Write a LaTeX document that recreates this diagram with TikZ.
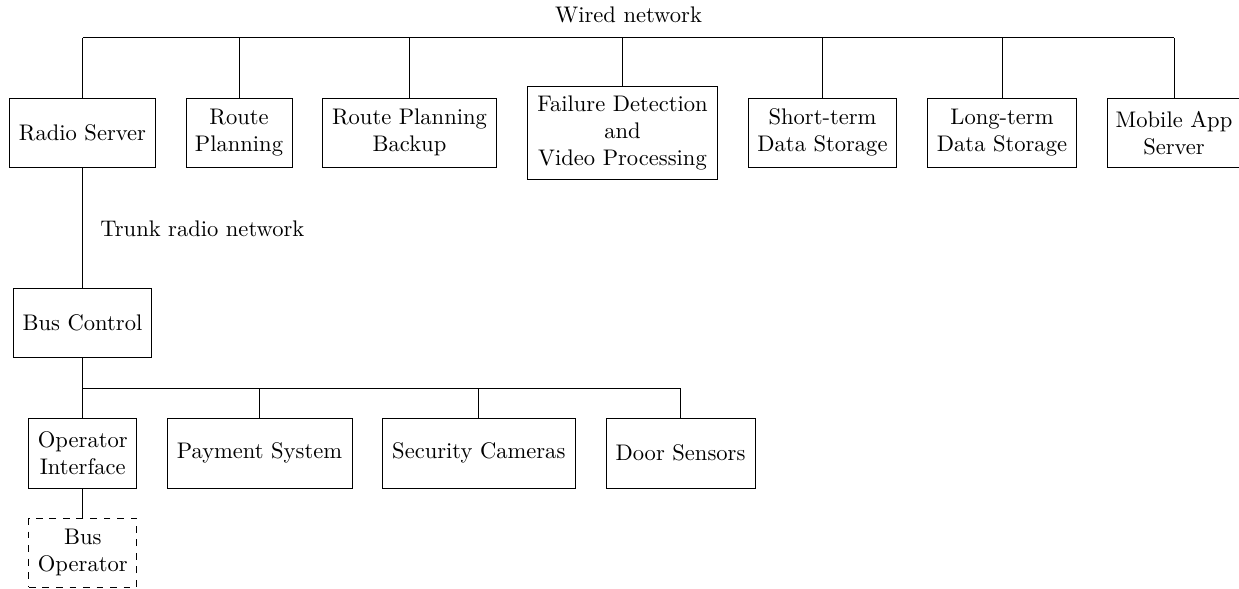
\documentclass[tikz,border=0pt]{standalone}
\usetikzlibrary{calc}
\begin{document}
\begin{tikzpicture}[x=0.4433pt, y=-0.4433pt,
  box/.style={draw, line width=0.4pt, align=center, inner sep=0pt},
  sz/.style 2 args={minimum width=#1*0.4433pt, minimum height=#2*0.4433pt},
  opbox/.style={box, dashed},
  link/.style={line width=0.4pt},
  lbl/.style={inner sep=0pt}]
\useasboundingbox (0,0) rectangle (1239,588);

% wired network servers
\node[box, sz={145.6}{69}]   (radio)   at (82.5,132.8)  {Radio Server};
\node[box, sz={106}{69}]     (route)   at (239,132.8)   {Route\\Planning};
\node[box, sz={174.4}{69}]   (backup)  at (409.5,132.8) {Route Planning\\Backup};
\node[box, sz={189.6}{92.6}] (failure) at (622.5,133)   {Failure Detection\\and\\Video Processing};
\node[box, sz={148.4}{69}]   (short)   at (822.5,132.8) {Short-term\\Data Storage};
\node[box, sz={148.6}{69}]   (long)    at (1002,132.8)  {Long-term\\Data Storage};
\node[box, sz={134}{69}]     (mobile)  at (1174,132.8)  {Mobile App\\Server};

% on-board equipment
\node[box, sz={138.4}{69.4}] (busctl)   at (82.5,323)   {Bus Control};
\node[box, sz={107.7}{69.7}] (opint)    at (82.8,453.2) {Operator\\Interface};
\node[box, sz={185}{69.7}]   (payment)  at (259.5,453.2) {Payment System};
\node[box, sz={193}{69.7}]   (security) at (478.8,453.2) {Security Cameras};
\node[box, sz={149}{69.7}]   (door)     at (680.5,453.2) {Door Sensors};
\node[opbox, sz={107.7}{69}] (busop)    at (82.8,552.8) {Bus\\Operator};

% bus lines
\coordinate (wire) at (0,37.7);
\coordinate (bus)  at (0,388.3);

\foreach \n in {radio,route,backup,failure,short,long,mobile}
  \draw[link] (\n.north) -- (\n.north |- wire);
\draw[link] (radio.north |- wire) -- (mobile.north |- wire);
\node[lbl, anchor=base] (wiredlbl) at (628.5,22) {Wired network};

\draw[link] (radio.south) -- (busctl.north);
\node[lbl, anchor=base west] (trunk) at (100,236) {Trunk radio network};

\foreach \n in {busctl}
  \draw[link] (\n.south) -- (\n.south |- bus);
\foreach \n in {opint,payment,security,door}
  \draw[link] (\n.north) -- (\n.north |- bus);
\draw[link] (busctl.south |- bus) -- (door.north |- bus);

\draw[link] (opint.south) -- (busop.north);
\end{tikzpicture}
\end{document}
